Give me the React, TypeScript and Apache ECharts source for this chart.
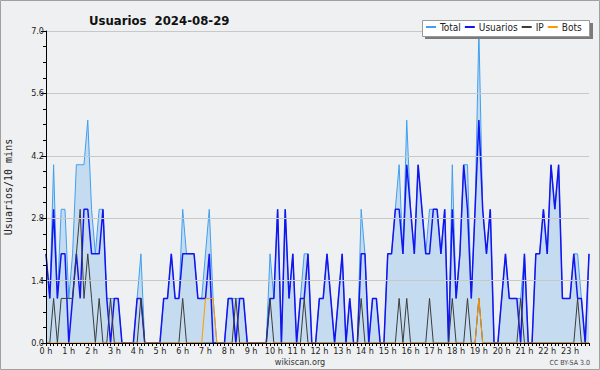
import React, { useEffect, useRef } from "react";
import * as echarts from "echarts";

const hourLabels = ["0 h","1 h","2 h","3 h","4 h","5 h","6 h","7 h","8 h","9 h","10 h","11 h","12 h","13 h","14 h","15 h","16 h","17 h","18 h","19 h","20 h","21 h","22 h","23 h"];
const minuteSlots = ["00","10","20","30","40","50"];
const yTicks = [0, 1.4, 2.8, 4.2, 5.6, 7.0];
const seriesNames = ["Total","Usuarios","IP","Bots"];

const total = [
  2,1,4,1,3,3, 1,2,4,4,4,5, 3,2,3,3,1,1, 1,1,0,0,0,0,
  1,2,0,0,0,0, 0,1,1,2,1,1, 3,2,2,2,1,1, 2,3,1,0,0,0,
  1,1,1,1,1,0, 0,0,0,0,0,2, 1,3,0,3,1,2, 0,1,2,2,0,0,
  1,1,2,1,0,1, 2,0,1,0,0,3, 2,0,1,1,0,0, 2,2,3,4,2,5,
  3,2,4,3,2,3, 3,3,2,3,0,4, 1,2,4,4,1,3, 7,3,2,3,0,0,
  1,2,1,1,1,1, 2,0,0,2,2,3, 2,4,3,4,1,1, 1,2,2,1,0,2
];
const usuarios = [
  2,1,3,1,2,2, 0,1,2,1,3,3, 2,2,2,3,1,0, 1,1,0,0,0,0,
  1,1,0,0,0,0, 0,1,1,2,1,1, 2,2,2,2,1,1, 1,2,0,0,0,0,
  1,1,0,1,1,0, 0,0,0,0,0,1, 1,3,0,3,1,2, 0,1,1,2,0,0,
  1,1,2,1,0,1, 2,0,1,0,0,2, 2,0,1,1,0,0, 2,2,3,3,2,4,
  3,2,4,3,2,2, 3,3,2,3,0,3, 1,2,4,3,1,3, 5,3,2,3,0,0,
  1,2,1,1,1,0, 2,0,0,2,2,3, 2,4,3,4,1,1, 1,2,1,1,0,2
];
const ip = [
  0,0,1,0,1,1, 1,1,2,3,1,2, 1,0,1,0,0,1, 0,0,0,0,0,0,
  0,1,0,0,0,0, 0,0,0,0,0,0, 1,0,0,0,0,0, 0,0,0,0,0,0,
  0,0,1,0,0,0, 0,0,0,0,0,1, 0,0,0,0,0,0, 0,0,1,0,0,0,
  0,0,0,0,0,0, 0,0,0,0,0,1, 0,0,0,0,0,0, 0,0,0,1,0,1,
  0,0,0,0,0,1, 0,0,0,0,0,1, 0,0,0,1,0,0, 1,0,0,0,0,0,
  0,0,0,0,0,1, 0,0,0,0,0,0, 0,0,0,0,0,0, 0,0,1,0,0,0
];
const bots = [
  0,0,0,0,0,0, 0,0,0,0,0,0, 0,0,0,0,0,0, 0,0,0,0,0,0,
  0,0,0,0,0,0, 0,0,0,0,0,0, 0,0,0,0,0,0, 1,1,1,0,0,0,
  0,0,0,0,0,0, 0,0,0,0,0,0, 0,0,0,0,0,0, 0,0,0,0,0,0,
  0,0,0,0,0,0, 0,0,0,0,0,0, 0,0,0,0,0,0, 0,0,0,0,0,0,
  0,0,0,0,0,0, 0,0,0,0,0,0, 0,0,0,0,0,0, 1,0,0,0,0,0,
  0,0,0,0,0,0, 0,0,0,0,0,0, 0,0,0,0,0,0, 0,0,0,0,0,0
];

const categories = hourLabels.flatMap((_, h) => minuteSlots.map((m) => `${h}:${m}`));

const FONT = '"DejaVu Sans Condensed", "Liberation Sans Narrow", "DejaVu Sans", sans-serif';

export default function App() {
  const ref = useRef<HTMLDivElement>(null);
  useEffect(() => {
    document.body.style.margin = "0";
    const chart = echarts.init(ref.current!, null, { renderer: "svg" });
    chart.setOption({
      animation: false,
      backgroundColor: "#eff0f1",
      textStyle: { fontFamily: FONT },
      title: {
        text: "Usuarios  2024-08-29",
        left: 84,
        top: 9,
        textStyle: { fontFamily: FONT, fontSize: 13, fontWeight: "bold", color: "#111" },
      },
      legend: {
        data: seriesNames,
        left: 426,
        top: 22,
        padding: 0,
        itemGap: 4,
        itemWidth: 10,
        itemHeight: 2,
        icon: "rect",
        z: 30,
        textStyle: { fontFamily: FONT, fontSize: 10, color: "#222", padding: [0, 0, 0, -1] },
      },
      grid: { left: 46, right: 11, top: 31, bottom: 27, containLabel: false, outerBoundsMode: "none" },
      xAxis: {
        type: "category",
        data: categories,
        boundaryGap: false,
        z: 10,
        axisLine: { lineStyle: { color: "#000", width: 1 } },
        axisTick: { show: true, interval: 0, length: 3, lineStyle: { color: "#000" } },
        axisLabel: {
          interval: 5,
          margin: 3,
          fontSize: 9,
          color: "#222",
          fontFamily: FONT,
          formatter: (_v: string, idx: number) => hourLabels[Math.floor(idx / 6)],
        },
        splitLine: { show: false },
      },
      yAxis: {
        type: "value",
        min: yTicks[0],
        max: yTicks[yTicks.length - 1],
        interval: 1.4,
        z: 10,
        name: "Usuarios/10 mins",
        nameLocation: "middle",
        nameGap: 33,
        nameRotate: 90,
        nameTextStyle: { fontFamily: '"DejaVu Sans Mono", monospace', fontSize: 10, color: "#222" },
        axisLine: { show: true, lineStyle: { color: "#000", width: 1 } },
        axisTick: { show: true, length: 5, lineStyle: { color: "#000" } },
        minorTick: { show: true, splitNumber: 4, length: 3, lineStyle: { color: "#000" } },
        axisLabel: {
          margin: 2,
          fontSize: 9,
          color: "#222",
          fontFamily: FONT,
          formatter: (v: number) => v.toFixed(1),
        },
        splitLine: { show: true, lineStyle: { color: "#c8c8c8", width: 1 } },
      },
      graphic: [
        {
          type: "rect",
          z: 0,
          silent: true,
          shape: { x: 0.5, y: 0.5, width: 599, height: 369 },
          style: { fill: "none", stroke: "#a0a0a0", lineWidth: 1 },
        },
        {
          type: "rect",
          z: 20,
          silent: true,
          shape: { x: 425, y: 23, width: 168, height: 16 },
          style: { fill: "#7a7a7a" },
        },
        {
          type: "rect",
          z: 21,
          silent: true,
          shape: { x: 422.5, y: 20.5, width: 167, height: 16 },
          style: { fill: "#ffffff", stroke: "#9a9a9a", lineWidth: 1 },
        },
        {
          type: "text",
          z: 21,
          silent: true,
          style: { text: "wikiscan.org", x: 300, y: 362, align: "center", verticalAlign: "middle", fontFamily: FONT, fontSize: 9, fill: "#333" },
        },
        {
          type: "text",
          z: 21,
          silent: true,
          style: { text: "CC BY-SA 3.0", x: 590, y: 363, align: "right", verticalAlign: "middle", fontFamily: FONT, fontSize: 7, fill: "#444" },
        },
      ],
      series: [
        {
          name: seriesNames[0],
          type: "line",
          data: total,
          symbol: "none",
          z: 2,
          lineStyle: { color: "#3f9ff0", width: 1 },
          itemStyle: { color: "#3f9ff0" },
          areaStyle: { color: "#c5dcf0", opacity: 1 },
        },
        {
          name: seriesNames[1],
          type: "line",
          data: usuarios,
          symbol: "none",
          z: 3,
          lineStyle: { color: "#1414f0", width: 1.5 },
          itemStyle: { color: "#1414f0" },
        },
        {
          name: seriesNames[2],
          type: "line",
          data: ip,
          symbol: "none",
          z: 4,
          lineStyle: { color: "#3c3c3c", width: 1 },
          itemStyle: { color: "#3c3c3c" },
        },
        {
          name: seriesNames[3],
          type: "line",
          data: bots,
          symbol: "none",
          z: 5,
          lineStyle: { color: "#ff9900", width: 1 },
          itemStyle: { color: "#ff9900" },
        },
      ],
    });
    return () => chart.dispose();
  }, []);
  return <div ref={ref} style={{ width: 600, height: 370 }} />;
}
